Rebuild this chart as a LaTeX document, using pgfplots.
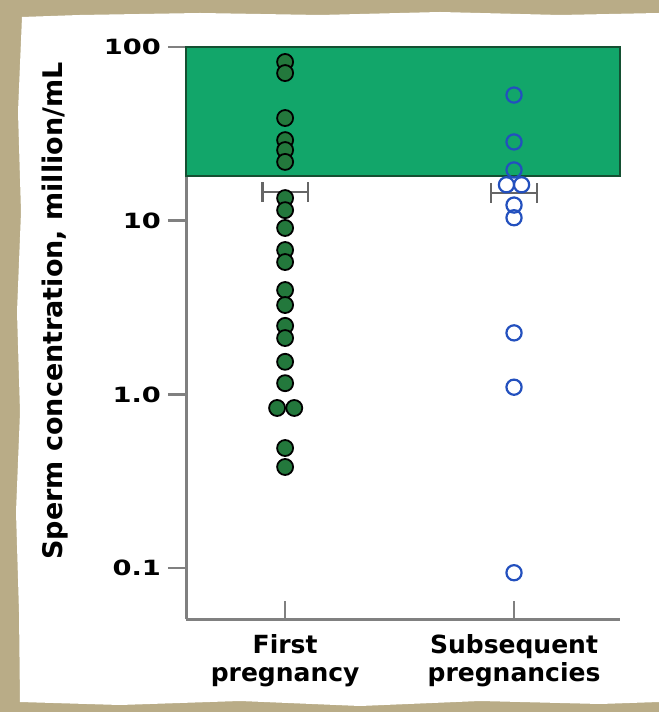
\documentclass[border=0pt]{standalone}
\usepackage{pgfplots}
\pgfplotsset{compat=1.18}
\usepackage{graphicx}
\usepackage{fontspec}
\setmainfont{DejaVu Sans}
\definecolor{tanbg}{RGB}{185,172,135}
\definecolor{rangegreen}{RGB}{18,166,106}
\definecolor{rangeedge}{RGB}{20,80,50}
\definecolor{dotgreen}{RGB}{35,120,60}
\definecolor{dotblue}{RGB}{35,80,190}
\definecolor{axisgray}{RGB}{128,128,128}
\begin{document}
\begin{tikzpicture}[x=1pt,y=1pt]
\fill[tanbg] (0,0) rectangle (329.5,356);
\fill[white] (10,5) -- (60,3.5) -- (120,5.5) -- (180,3) -- (240,5.5) -- (300,4) -- (329.5,5)
  -- (329.5,349.5) -- (280,348.5) -- (220,350) -- (160,348.5) -- (100,349.5) -- (40,348.5) -- (11,347.5)
  -- (9,300) -- (10.5,250) -- (8.5,200) -- (10,150) -- (8,100) -- (9.5,50) -- cycle;
\node[rotate=90, font=\bfseries\fontsize{13.5}{15}\selectfont] at (27.5,200.5) {Sperm concentration, million/mL};
\begin{axis}[
  at={(93pt,46.5pt)}, anchor=south west,
  width=217pt, height=286pt, scale only axis,
  ymode=log, xmin=-0.433, xmax=1.463, ymin=0.0509, ymax=100,
  axis x line*=bottom, axis y line*=left,
  axis line style={axisgray, line width=1.5pt},
  ytick={0.1,1,10,100},
  yticklabels={\scalebox{1.3}[1]{0.1},\scalebox{1.3}[1]{1.0},\scalebox{1.3}[1]{10},\scalebox{1.3}[1]{100}},
  yminorticks=false,
  xtick={0,1},
  xticklabels={First\\pregnancy,Subsequent\\pregnancies},
  xticklabel style={align=center, font=\bfseries\fontsize{12.5}{14}\selectfont, yshift=-4pt},
  yticklabel style={font=\bfseries\fontsize{10.5}{12}\selectfont},
  tick style={axisgray, line width=1.2pt},
  major tick length=9pt,
  ytick align=outside, xtick align=inside,
  clip=false,
]
\addplot[fill=rangegreen, draw=rangeedge, line width=0.9pt] coordinates {(-0.433,18.1) (1.463,18.1) (1.463,100) (-0.433,100)} -- cycle;
\addplot[black!60, line width=1.3pt, mark=|, mark size=5pt, mark options={line width=1.3pt}] coordinates {(-0.1,14.6) (0.1,14.6)};
\addplot[black!60, line width=1.3pt, mark=|, mark size=5pt, mark options={line width=1.3pt}] coordinates {(0.9,14.4) (1.1,14.4)};
\addplot[only marks, mark=*, mark size=4pt, mark options={fill=dotgreen, draw=black, line width=0.9pt}] coordinates {
(0,82.0) (0,70.8) (0,39.0) (0,29.1) (0,25.5) (0,21.8) (0,13.5) (0,11.5) (0,9.08) (0,6.78) (0,5.78)
(0,3.99) (0,3.27) (0,2.48) (0,2.11) (0,1.54) (0,1.16) (-0.035,0.835) (0.04,0.835) (0,0.491) (0,0.382)};
\addplot[only marks, mark=o, mark size=3.8pt, mark options={draw=dotblue, line width=1.1pt}] coordinates {
(1,52.9) (1,28.4) (1,19.6) (0.967,16.1) (1.033,16.1) (1,12.3) (1,10.4) (1,2.26) (1,1.10) (1,0.094)};
\end{axis}
\end{tikzpicture}
\end{document}
